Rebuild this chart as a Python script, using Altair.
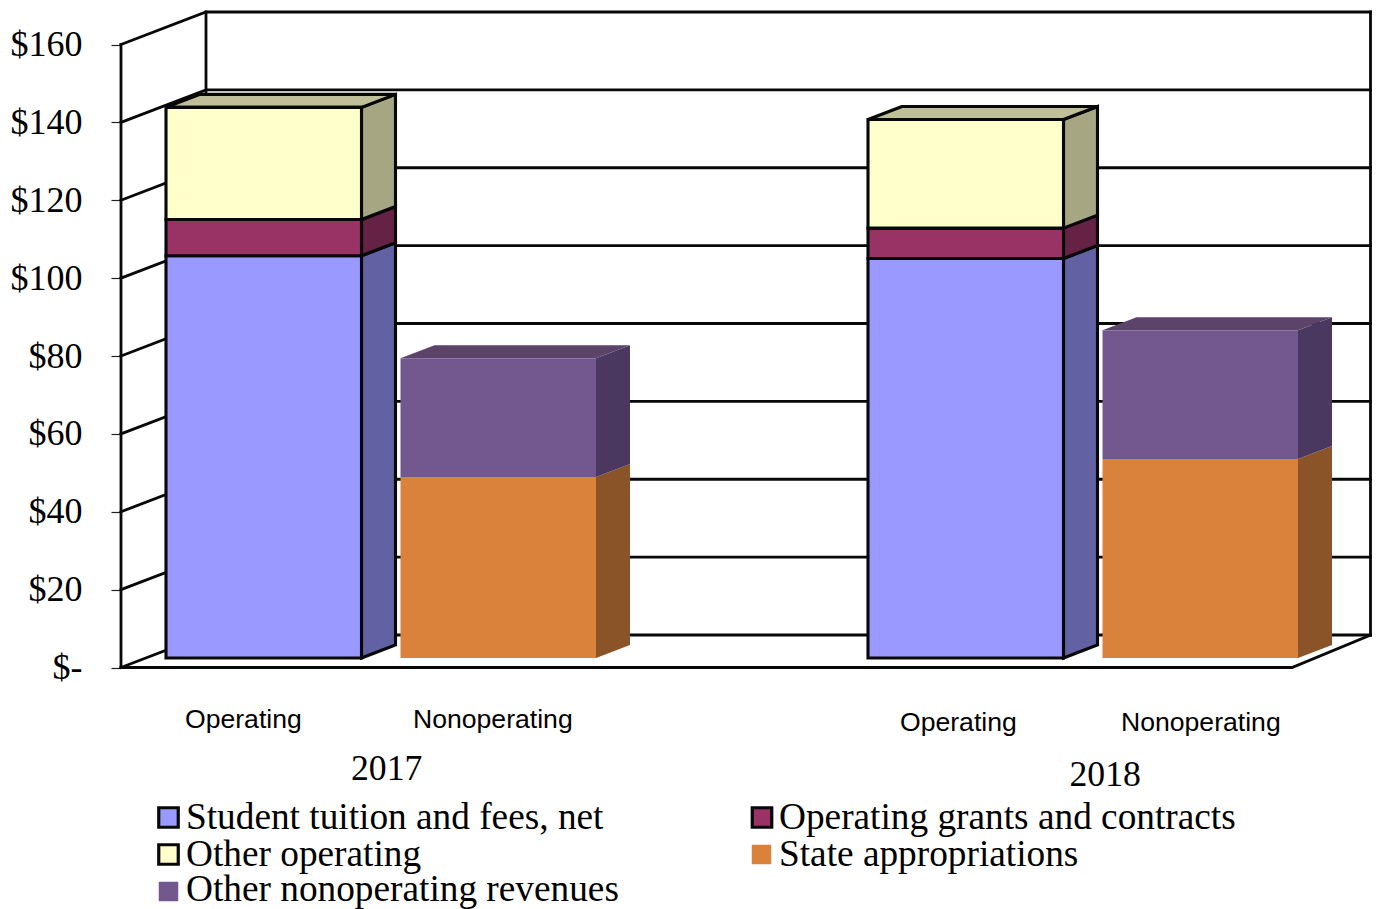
import altair as alt
import pandas as pd

# ---- values ($ millions) ----
years = ["2017", "2018"]
tuition = [103.3, 102.6]
grants = [9.3, 7.8]
other_op = [28.8, 27.9]
state = [46.5, 51.1]
other_nonop = [30.5, 33.1]
y_ticks = [0, 20, 40, 60, 80, 100, 120, 140, 160]

# ---- styles ----
C = {
    "tuition": ("#9999FF", "#6161A3", None),
    "grants": ("#993366", "#662244", None),
    "other_op": ("#FFFFCC", "#A6A682", "#BFBF99"),
    "state": ("#DA813C", "#8A5428", "#8A5428"),
    "other_nonop": ("#735890", "#4A3860", "#5B4369"),
}
LABELS = {
    "tuition": "Student tuition and fees, net",
    "grants": "Operating grants and contracts",
    "other_op": "Other operating",
    "state": "State appropriations",
    "other_nonop": "Other nonoperating revenues",
}
INK = "#080808"
SERIF = "Liberation Serif"
SANS = "Liberation Sans"

# ---- layout (page pixels) ----
PX0, PY0 = 121, 8
RIGHT_EDGE, BOTTOM_EDGE = 1372, 909
W, H = RIGHT_EDGE - PX0, BOTTOM_EDGE - PY0
K = 3.89375  # px per dollar
Y_AXIS = 667.5
def px(x): return x - PX0
def py(y): return y - PY0
Y_DOM = [(Y_AXIS - BOTTOM_EDGE) / K, (Y_AXIS - PY0) / K]
X_DOM = [PX0, RIGHT_EDGE]
BAR_W = 195.5
BAR_DX, BAR_DZ = 34, 13 / K
WALL_DX, WALL_DZ = 85, 8.35
FLOOR_R = 1292
WALL_R = 1370.5
BASE = (Y_AXIS - 658) / K
xs_op = [166, 868]
xs_non = [400.5, 1102.5]

x_scale = alt.Scale(domain=X_DOM, range=[0, W], nice=False, zero=False)
y_scale = alt.Scale(domain=Y_DOM, range=[H, 0], nice=False, zero=False)
y_axis = alt.Axis(
    values=y_ticks, title=None, domain=False, grid=False, tickSize=10, tickColor="#222222", tickWidth=1.2,
    labelFont=SERIF, labelFontSize=36, labelColor="#000000", labelPadding=29,
    labelExpr="datum.value == 0 ? '$-' : '$' + datum.value", labelBound=False, labelFlush=False)
X = lambda f: alt.X(f, type="quantitative", scale=x_scale, axis=None)
Y = lambda f: alt.Y(f, type="quantitative", scale=y_scale, axis=y_axis)


def bar_layers(x0s, stacks, sw):
    kw = dict(stroke=INK, strokeWidth=sw) if sw else {}
    sides, tops, fronts = [], [], []
    for i, x0 in enumerate(x0s):
        x1 = x0 + BAR_W
        cum = BASE
        for key, vals in stacks:
            v = vals[i]
            front, side, top = C[key]
            fd = pd.DataFrame(dict(x=[x1, x1 + BAR_DX], y=[cum, cum + BAR_DZ], y2=[cum + v, cum + v + BAR_DZ]))
            sides.append(alt.Chart(fd).mark_area(fill=side, **kw).encode(x=X("x"), y=Y("y"), y2="y2"))
            rd = pd.DataFrame(dict(x=[x0], x2=[x1], y=[cum], y2=[cum + v]))
            fronts.append(alt.Chart(rd).mark_rect(fill=front, **kw).encode(x=X("x"), x2="x2", y=Y("y"), y2="y2"))
            cum += v
        td = pd.DataFrame(dict(y=[cum, cum + BAR_DZ], x=[x0, x0 + BAR_DX], x2=[x1, x1 + BAR_DX]))
        tops.append(alt.Chart(td).mark_area(orient="horizontal", fill=top, **kw).encode(y=Y("y"), x=X("x"), x2="x2"))
    return sides + tops + fronts


# walls and floor
grid_rows = []
for t in y_ticks:
    pts = [(PX0, t), (PX0 + WALL_DX, t + WALL_DZ), (WALL_R, t + WALL_DZ)]
    for j, (x, y) in enumerate(pts):
        grid_rows.append(dict(id=f"g{t}", x=x, y=y, o=j))
frame = {
    "axis": [(PX0, 160), (PX0, 0)],
    "back": [(PX0 + WALL_DX, 160 + WALL_DZ), (PX0 + WALL_DX, WALL_DZ)],
    "right": [(WALL_R, 160 + WALL_DZ), (WALL_R, WALL_DZ)],
    "floor": [(PX0, 0), (FLOOR_R, 0), (WALL_R, WALL_DZ)],
}
for name, pts in frame.items():
    for j, (x, y) in enumerate(pts):
        grid_rows.append(dict(id=name, x=x, y=y, o=j))
walls = alt.Chart(pd.DataFrame(grid_rows)).mark_line(color=INK, strokeWidth=2.8, strokeJoin="miter", strokeCap="square", clip=False).encode(
    x=X("x"), y=Y("y"), detail="id:N", order="o:Q")

one = pd.DataFrame({"a": [0]})
def text(s, x, y, font, size):
    return alt.Chart(one).mark_text(font=font, fontSize=size, align="left", baseline="alphabetic", color="#000000").encode(
        x=alt.value(px(x)), y=alt.value(py(y)), text=alt.value(s))
def swatch(key, x, y, stroked):
    side = 19.5
    kw = dict(stroke=INK, strokeWidth=3.2) if stroked else {}
    return alt.Chart(one).mark_square(size=side * side, opacity=1, fill=C[key][0], **kw).encode(
        x=alt.value(px(x)), y=alt.value(py(y)))

SANS_SIZE, YEAR_SIZE, LEG_SIZE = 26.6, 35.7, 37.3
labels = [
    text("Operating", 185, 728, SANS, SANS_SIZE),
    text("Nonoperating", 413, 728, SANS, SANS_SIZE),
    text("Operating", 900, 731, SANS, SANS_SIZE),
    text("Nonoperating", 1121, 731, SANS, SANS_SIZE),
    text(years[0], 351, 780, SERIF, YEAR_SIZE),
    text(years[1], 1069.5, 786, SERIF, YEAR_SIZE),
]
legend = [
    swatch("tuition", 168.5, 817.5, True), text(LABELS["tuition"], 186, 829, SERIF, LEG_SIZE),
    swatch("other_op", 168.5, 854.5, True), text(LABELS["other_op"], 186, 866, SERIF, LEG_SIZE),
    swatch("other_nonop", 168.5, 891.5, False), text(LABELS["other_nonop"], 186, 900.5, SERIF, LEG_SIZE),
    swatch("grants", 762, 817.5, True), text(LABELS["grants"], 779, 829, SERIF, LEG_SIZE),
    swatch("state", 761.5, 854.5, False), text(LABELS["state"], 779, 866, SERIF, LEG_SIZE),
]

op_stack = [("tuition", tuition), ("grants", grants), ("other_op", other_op)]
non_stack = [("state", state), ("other_nonop", other_nonop)]

chart = alt.layer(
    walls,
    *bar_layers(xs_op, op_stack, 3.1),
    *bar_layers(xs_non, non_stack, 0),
    *labels, *legend,
).properties(
    width=W, height=H, background="white",
    padding={"left": PX0 - 8, "top": 0, "right": 0, "bottom": 0},
    autosize=alt.AutoSizeParams(type="none"),
).configure_view(stroke=None)

chart.save("out.html", embed_options={"renderer": "svg", "actions": False})
